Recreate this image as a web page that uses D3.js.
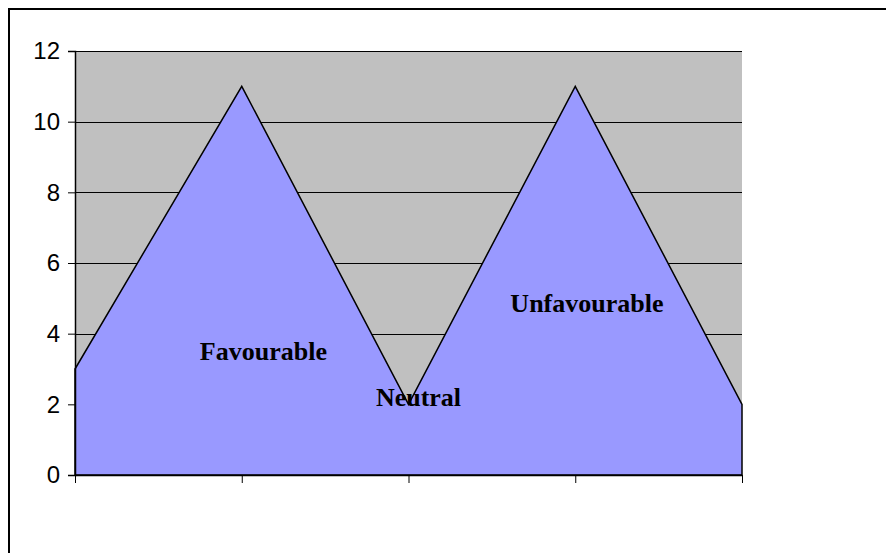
<!DOCTYPE html>
<html lang="en">
<head>
<meta charset="utf-8">
<style>
  body { margin: 0; background: white; }
  svg { display: block; font-family: Arial, "Liberation Sans", sans-serif; }
  .grid line { stroke: black; stroke-width: 1; }
  .axis text { font-family: Arial, "Liberation Sans", sans-serif; font-size: 24px; fill: black; }
  .axis path, .axis line { stroke: black; }
  .label { font-family: "Liberation Serif", "Times New Roman", serif; font-weight: bold; font-size: 26px; fill: black; text-anchor: middle; }
</style>
</head>
<body>
<svg width="886" height="553"></svg>
<script src="https://d3js.org/d3.v7.min.js"></script>
<script>
const categories = ["1", "2", "3", "4", "5"]
const values = [3, 11, 2, 11, 2]
const yTicks = [0, 2, 4, 6, 8, 10, 12]
// region labels: category index position and value at the text baseline
const labelText = ["Favourable", "Neutral", "Unfavourable"]
const labelX = [1.13, 2.06, 3.07]
const labelY = [3.25, 1.95, 4.61]

const width = 886, height = 553
const margin = { top: 51, right: 144, bottom: 78, left: 75 }

const svg = d3.select("svg")

// outer chart frame (only left and top edges are visible in the window)
svg.append("rect")
  .attr("x", 9).attr("y", 9)
  .attr("width", 900).attr("height", 600)
  .attr("fill", "white")
  .attr("stroke", "black")
  .attr("stroke-width", 2)

const x = d3.scalePoint().domain(categories).range([margin.left, width - margin.right]).padding(0)
const y = d3.scaleLinear().domain([0, 12]).range([height - margin.bottom, margin.top])

// plot area
svg.append("rect")
  .attr("x", margin.left).attr("y", y(12))
  .attr("width", x(categories[4]) - margin.left)
  .attr("height", y(0) - y(12))
  .attr("fill", "#C0C0C0")

svg.append("g")
  .attr("class", "grid")
  .selectAll("line")
  .data(yTicks.slice(1))
  .enter().append("line")
  .attr("x1", margin.left).attr("x2", x(categories[4]))
  .attr("y1", d => Math.round(y(d)) + 0.5).attr("y2", d => Math.round(y(d)) + 0.5)

const area = d3.area()
  .x((d, i) => x(categories[i]))
  .y0(y(0))
  .y1(d => y(d))

svg.append("path")
  .datum(values)
  .attr("d", area)
  .attr("fill", "#9999FF")
  .attr("stroke", "black")
  .attr("stroke-width", 1.5)
  .attr("stroke-linejoin", "miter")

const yAxis = d3.axisLeft(y).tickValues(yTicks).tickSize(7).tickPadding(8)
svg.append("g")
  .attr("class", "axis y")
  .attr("transform", "translate(" + margin.left + ",0)")
  .call(yAxis)
  .call(g => g.select(".domain").attr("stroke-width", 1.5))

const xAxis = d3.axisBottom(x).tickSize(8).tickSizeOuter(0).tickFormat("")
svg.append("g")
  .attr("class", "axis x")
  .attr("transform", "translate(0," + y(0) + ")")
  .call(xAxis)
  .call(g => g.select(".domain").attr("stroke-width", 1.5))
  .call(g => g.selectAll(".tick line").attr("stroke", "#444"))

const lx = d3.scaleLinear().domain([0, 4]).range([x(categories[0]), x(categories[4])])
svg.append("g")
  .selectAll("text")
  .data(labelText)
  .enter().append("text")
  .attr("class", "label")
  .attr("x", (d, i) => lx(labelX[i]))
  .attr("y", (d, i) => y(labelY[i]))
  .text(d => d)
</script>
</body>
</html>
